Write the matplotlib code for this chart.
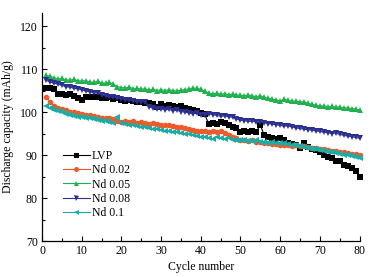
import matplotlib
matplotlib.use("Agg")
import matplotlib.pyplot as plt
from matplotlib.ticker import MultipleLocator

cycles = list(range(1, 81))

lvp = [105.5, 105.6, 105.4, 104.3, 104.2, 104.0, 104.1, 103.8, 103.2, 102.9,
       103.4, 103.6, 103.5, 103.6, 103.3, 103.2, 103.5, 103.1, 103.2, 102.8,
       102.5, 102.7, 102.6, 102.3, 102.4, 102.0, 102.2, 101.8, 101.2, 101.9,
       101.5, 101.7, 101.3, 101.2, 101.4, 101.0, 100.8, 100.5, 100.2, 99.8,
       99.5, 97.2, 97.5, 97.3, 97.6, 97.4, 97.0, 96.4, 96.2, 95.4,
       95.5, 95.3, 95.6, 95.4, 97.0, 94.6, 94.2, 94.0, 93.8, 93.9,
       93.5, 92.9, 92.6, 92.3, 91.6, 92.8, 91.8, 91.4, 91.2, 90.6,
       90.0, 89.6, 89.4, 88.5, 88.5, 87.6, 87.4, 87.0, 86.3, 85.0]

nd002 = [103.6, 102.4, 101.4, 101.0, 100.7, 100.4, 100.1, 100.0, 99.7, 99.6,
         99.3, 99.4, 99.0, 98.9, 98.7, 98.5, 98.6, 98.3, 98.0, 97.7,
         97.9, 97.6, 97.8, 97.5, 97.6, 97.4, 97.3, 97.4, 97.1, 97.0,
         96.9, 97.0, 96.7, 96.5, 96.4, 96.2, 96.0, 95.8, 95.7, 95.6,
         95.5, 95.4, 95.6, 95.3, 95.5, 95.2, 94.6, 94.2, 93.9, 93.6,
         93.5, 93.3, 93.4, 93.1, 93.0, 92.8, 92.9, 92.6, 92.5, 92.4,
         92.3, 92.4, 92.2, 92.3, 92.1, 92.2, 91.9, 91.7, 91.6, 91.4,
         91.3, 91.1, 91.0, 90.9, 90.7, 90.6, 90.5, 90.3, 90.2, 90.0]

nd005 = [108.6, 108.3, 108.0, 107.7, 107.8, 107.5, 107.4, 107.6, 107.3, 107.2,
         107.3, 107.0, 106.9, 107.1, 106.8, 106.7, 106.9, 106.5, 105.9, 105.7,
         105.6, 105.8, 105.4, 105.5, 105.3, 105.4, 105.1, 105.3, 105.0, 105.2,
         105.0, 105.2, 105.0, 104.9, 105.1, 105.2, 105.4, 105.6, 105.5, 105.3,
         104.8, 104.4, 104.2, 104.4, 104.1, 104.3, 104.0, 104.2, 104.0, 103.9,
         103.8, 104.0, 103.7, 103.6, 103.8, 103.4, 103.2, 103.0, 102.8, 102.6,
         103.0, 102.7, 102.5, 102.6, 102.3, 102.4, 102.0, 101.8, 101.6, 101.4,
         101.5, 101.2, 101.3, 101.1, 101.2, 100.9, 101.0, 100.8, 100.7, 100.5]

nd008 = [107.4, 107.0, 106.7, 106.5, 106.2, 105.9, 105.8, 105.5, 105.4, 105.2,
         104.9, 104.7, 104.5, 104.4, 104.0, 103.8, 103.6, 103.4, 103.2, 103.0,
         102.9, 102.7, 102.6, 102.4, 102.3, 102.4, 101.2, 100.9, 100.6, 100.8,
         100.5, 100.6, 100.3, 100.4, 100.1, 100.0, 99.8, 99.6, 99.7, 99.4,
         99.3, 99.6, 99.4, 99.2, 99.0, 99.1, 98.9, 98.8, 98.4, 98.1,
         98.0, 97.8, 97.9, 97.6, 97.7, 97.5, 97.3, 97.2, 97.0, 96.9,
         96.7, 96.8, 96.5, 96.3, 96.2, 96.0, 95.9, 95.8, 95.6, 95.5,
         95.3, 95.2, 95.0, 95.1, 94.8, 94.6, 94.4, 94.3, 94.1, 93.9]

nd01 = [101.4, 100.9, 100.5, 100.2, 99.9, 99.6, 99.3, 99.1, 98.9, 98.8,
        98.6, 98.5, 98.3, 98.2, 98.0, 97.8, 97.7, 97.5, 98.8, 97.4,
        97.2, 97.0, 96.9, 96.7, 96.6, 96.4, 96.3, 96.1, 96.0, 95.8,
        95.7, 95.6, 95.4, 95.3, 95.1, 95.0, 94.8, 94.6, 94.4, 94.3,
        94.1, 94.0, 93.8, 94.2, 93.9, 93.8, 93.9, 93.6, 93.5, 93.4,
        93.5, 93.3, 93.2, 93.4, 93.1, 93.0, 92.9, 93.0, 92.8, 92.9,
        92.7, 92.6, 92.4, 92.3, 92.1, 91.9, 91.7, 91.5, 91.3, 91.2,
        91.0, 90.8, 90.7, 90.5, 90.3, 90.1, 90.0, 89.8, 89.6, 89.4]

labels = ["LVP", "Nd 0.02", "Nd 0.05", "Nd 0.08", "Nd 0.1"]
series = [lvp, nd002, nd005, nd008, nd01]
colors = ["#000000", "#f0592a", "#20b14f", "#2b2f8f", "#19ada6"]
markers = ["s", "o", "^", "v", "<"]

plt.rcParams['font.family'] = ['Liberation Serif', 'DejaVu Serif']

fig = plt.figure(figsize=(3.70, 2.77), dpi=100)
ax = fig.add_axes([42/370, 1-241/277, (359.5-42)/370, (241-12.7)/277])

for y, lab, c, m in zip(series, labels, colors, markers):
    ax.plot(cycles, y, color=c, marker=m, markersize=4, linewidth=0.8,
            markeredgewidth=0, label=lab, clip_on=False)

ax.set_xlim(0, 80)
ax.set_ylim(70, 123.1)
ax.xaxis.set_major_locator(MultipleLocator(10))
ax.xaxis.set_minor_locator(MultipleLocator(5))
ax.yaxis.set_major_locator(MultipleLocator(10))
ax.yaxis.set_minor_locator(MultipleLocator(5))
ax.tick_params(which='major', direction='in', length=3.5, width=0.8, labelsize=8.5, pad=3)
ax.tick_params(which='minor', direction='in', length=2, width=0.8)
for s in ['top', 'right']:
    ax.spines[s].set_visible(False)
for s in ['left', 'bottom']:
    ax.spines[s].set_linewidth(0.9)

ax.set_xlabel("Cycle number", fontsize=8.5, labelpad=3)
ax.set_ylabel("Discharge capacity (mAh/g)", fontsize=8.5, labelpad=4)

leg = ax.legend(loc='upper left', bbox_to_anchor=(0.05, 0.42), frameon=False,
                fontsize=8.5, handlelength=2.3, handletextpad=0.15,
                labelspacing=0.2, borderaxespad=0, markerscale=0.9)

fig.savefig("out.png", dpi=100)
